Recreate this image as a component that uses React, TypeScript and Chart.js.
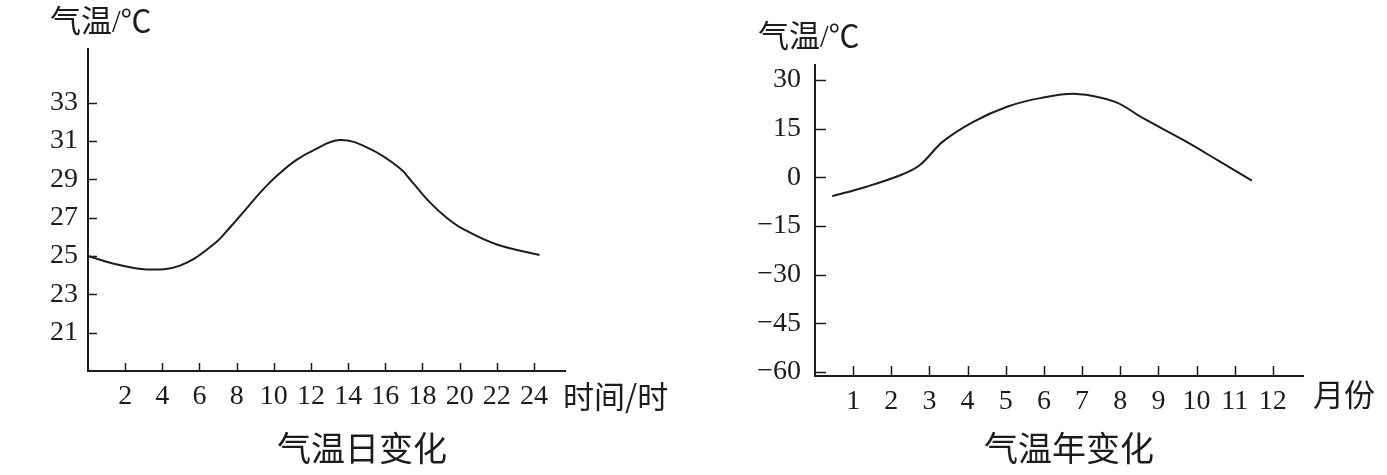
import React, { useEffect, useRef } from 'react';
import Chart from 'chart.js/auto';

// 气温日变化 (daily)
const dayHours = [0, 1.4, 3.15, 4.95, 6.75, 7.65, 8.55, 9.45, 10.3, 11.2, 12.1, 13.55, 15.15, 16.75, 17.5, 18.4, 19.3, 20.2, 22.0, 24.3];
const dayTemps = [25.0, 24.6, 24.3, 24.5, 25.6, 26.5, 27.5, 28.5, 29.3, 30.0, 30.5, 31.05, 30.6, 29.6, 28.8, 27.8, 27.0, 26.4, 25.6, 25.05];
const dayHourTicks = [2, 4, 6, 8, 10, 12, 14, 16, 18, 20, 22, 24];
const dayTempTicks = [21, 23, 25, 27, 29, 31, 33];

// 气温年变化 (yearly)
const monthPos = [0.45, 1.35, 2.25, 2.75, 3.35, 4.15, 5.05, 5.9, 6.85, 7.85, 8.6, 9.65, 10.55, 11.45];
const monthTemps = [-5.8, -2.9, 0.7, 3.8, 11.0, 17.1, 21.8, 24.4, 25.7, 23.3, 18.2, 11.5, 5.3, -1.0];
const monthTicks = [1, 2, 3, 4, 5, 6, 7, 8, 9, 10, 11, 12];
const yearTempTicks = [-60, -45, -30, -15, 0, 15, 30];

const SERIF = "'Liberation Serif', 'Times New Roman', 'Noto Sans CJK SC', serif";
const CJK = "'Noto Sans CJK SC', sans-serif";
const INK = '#1c1c1c';

type Cfg = {
  left: number; width: number;
  xs: number[]; ys: number[]; tension: number;
  xMin: number; xMax: number; yMin: number; yMax: number;
  xTicks: number[]; yTicks: number[];
  top: number; padRight: number; yAxisW: number; xAxisH: number;
  yPad: number; xPad: number;
  yTickLen: number; xTickLen: number;
  yUnit: string; yUnitX: number; yUnitY: number;
  xUnit: string; xUnitX: number; xUnitY: number; xUnitSize: number;
  title: string; titleX: number; titleY: number;
};

function decorPlugin(cfg: Cfg) {
  return {
    id: 'decor',
    afterDraw(chart: any) {
      const { ctx, chartArea, scales } = chart;
      const xs = scales.x, ys = scales.y;
      ctx.save();
      ctx.strokeStyle = INK;
      ctx.lineWidth = 1.5;
      cfg.yTicks.forEach((v) => {
        const py = Math.round(ys.getPixelForValue(v)) + 0.5;
        ctx.beginPath();
        ctx.moveTo(chartArea.left, py);
        ctx.lineTo(chartArea.left + cfg.yTickLen, py);
        ctx.stroke();
      });
      cfg.xTicks.forEach((v) => {
        const px = Math.round(xs.getPixelForValue(v)) + 0.5;
        ctx.beginPath();
        ctx.moveTo(px, chartArea.bottom);
        ctx.lineTo(px, chartArea.bottom - cfg.xTickLen);
        ctx.stroke();
      });
      ctx.fillStyle = INK;
      ctx.textBaseline = 'middle';
      ctx.textAlign = 'left';
      ctx.font = `31px ${SERIF}`;
      ctx.fillText(cfg.yUnit, cfg.yUnitX, cfg.yUnitY);
      ctx.font = `${cfg.xUnitSize}px ${CJK}`;
      ctx.fillText(cfg.xUnit, cfg.xUnitX, cfg.xUnitY);
      ctx.font = `34px ${CJK}`;
      ctx.textAlign = 'center';
      ctx.fillText(cfg.title, cfg.titleX, cfg.titleY);
      ctx.restore();
    },
  };
}

function TempChart({ cfg }: { cfg: Cfg }) {
  const ref = useRef<HTMLCanvasElement>(null);
  useEffect(() => {
    const chart = new Chart(ref.current!, {
      type: 'line',
      data: {
        datasets: [
          {
            data: cfg.xs.map((x, i) => ({ x, y: cfg.ys[i] })),
            borderColor: INK,
            borderWidth: 2,
            pointRadius: 0,
            tension: cfg.tension,
            fill: false,
            clip: false as any,
          },
        ],
      },
      options: {
        animation: false,
        responsive: false,
        maintainAspectRatio: false,
        events: [],
        layout: { padding: { left: 0, top: cfg.top, right: cfg.padRight, bottom: 0 } },
        plugins: { legend: { display: false }, tooltip: { enabled: false }, title: { display: false } },
        scales: {
          x: {
            type: 'linear',
            min: cfg.xMin,
            max: cfg.xMax,
            afterBuildTicks: (s: any) => { s.ticks = cfg.xTicks.map((v) => ({ value: v })); },
            afterFit: (s: any) => { s.height = cfg.xAxisH; },
            grid: { display: false },
            border: { display: true, color: INK, width: 2 },
            ticks: { font: { family: SERIF, size: 28 }, color: INK, padding: cfg.xPad, maxRotation: 0, autoSkip: false },
          },
          y: {
            type: 'linear',
            min: cfg.yMin,
            max: cfg.yMax,
            afterBuildTicks: (s: any) => { s.ticks = cfg.yTicks.map((v) => ({ value: v })); },
            afterFit: (s: any) => { s.width = cfg.yAxisW; },
            grid: { display: false },
            border: { display: true, color: INK, width: 2 },
            ticks: {
              font: { family: SERIF, size: 28 },
              color: INK,
              padding: cfg.yPad,
              autoSkip: false,
              callback: (v: any) => (Number(v) < 0 ? '\u2212' + Math.abs(Number(v)) : String(v)),
            },
          },
        },
      } as any,
      plugins: [decorPlugin(cfg)],
    });
    return () => chart.destroy();
  }, []);
  return (
    <canvas
      ref={ref}
      width={cfg.width}
      height={475}
      style={{ position: 'absolute', left: cfg.left, top: 0, width: cfg.width, height: 475 }}
    />
  );
}

const dayCfg: Cfg = {
  left: 0, width: 700,
  xs: dayHours, ys: dayTemps, tension: 0.4,
  xMin: 0, xMax: 25.67, yMin: 19, yMax: 35.8,
  xTicks: dayHourTicks, yTicks: dayTempTicks,
  top: 49, padRight: 700 - 565, yAxisW: 88, xAxisH: 475 - 371,
  yPad: 2, xPad: 1,
  yTickLen: 9, xTickLen: 8,
  yUnit: '气温/℃', yUnitX: 50, yUnitY: 24,
  xUnit: '时间/时', xUnitX: 563, xUnitY: 396, xUnitSize: 31,
  title: '气温日变化', titleX: 362, titleY: 448,
};

const yearCfg: Cfg = {
  left: 700, width: 687,
  xs: monthPos, ys: monthTemps, tension: 0.35,
  xMin: 0, xMax: 12.79, yMin: -61.2, yMax: 34.6,
  xTicks: monthTicks, yTicks: yearTempTicks,
  top: 65, padRight: 687 - 603, yAxisW: 115, xAxisH: 475 - 376,
  yPad: 6, xPad: 1,
  yTickLen: 11, xTickLen: 10,
  yUnit: '气温/℃', yUnitX: 58, yUnitY: 39,
  xUnit: '月份', xUnitX: 613, xUnitY: 394, xUnitSize: 31,
  title: '气温年变化', titleX: 369, titleY: 448,
};

export default function App() {
  return (
    <div style={{ position: 'absolute', left: 0, top: 0, width: 1387, height: 475, background: '#fff' }}>
      <TempChart cfg={dayCfg} />
      <TempChart cfg={yearCfg} />
    </div>
  );
}
